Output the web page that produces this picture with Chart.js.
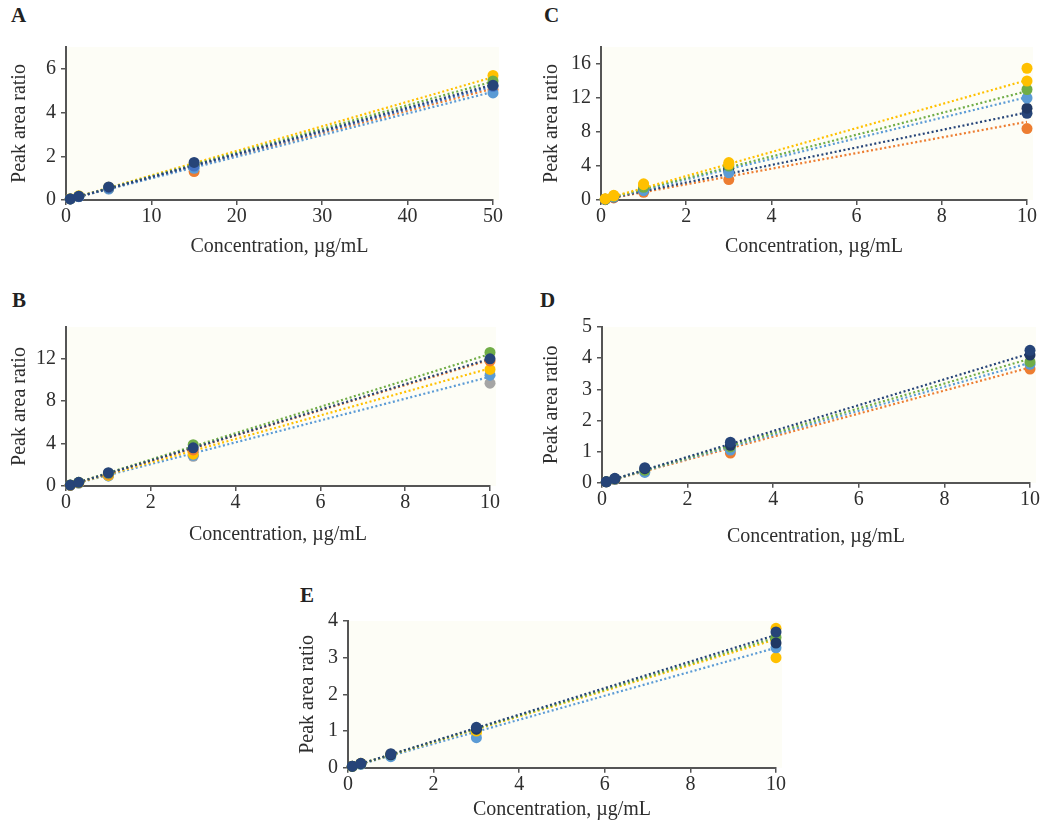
<!DOCTYPE html>
<html lang="en">
<head>
<meta charset="UTF-8">
<title>Calibration curves</title>
<script src="https://cdn.jsdelivr.net/npm/chart.js"></script>
<style>
  body { margin: 0; background: #fff; width: 1042px; height: 822px; position: relative; overflow: hidden;
         font-family: "Liberation Serif", "DejaVu Serif", serif; color: #333; }
  .panel { position: absolute; }
  .tag { position: absolute; font-weight: bold; font-size: 21px; color: #222; }
  .r2 { position: absolute; font-size: 19px; color: #2a2a2a; white-space: nowrap; }
  .r2 sup { font-size: 12px; position: relative; top: -2px; }
</style>
</head>
<body>

<div class="tag" style="left:11px; top:3px">A</div>
<div class="tag" style="left:544px; top:3px">C</div>
<div class="tag" style="left:12px; top:288px">B</div>
<div class="tag" style="left:540px; top:288px">D</div>
<div class="tag" style="left:300px; top:583px">E</div>

<div class="r2" style="left:107px; top:72px">Avg. R<sup>2</sup> = 0.99</div>
<div class="r2" style="left:645px; top:72px">Avg. R<sup>2</sup> = 0.98</div>
<div class="r2" style="left:107px; top:359px">Avg. R<sup>2</sup> = 0.99</div>
<div class="r2" style="left:643px; top:360px">Avg. R<sup>2</sup> = 0.99</div>
<div class="r2" style="left:400px; top:647px">Avg. R<sup>2</sup> = 0.99</div>

<canvas id="panelA" class="panel"></canvas>
<canvas id="panelB" class="panel"></canvas>
<canvas id="panelC" class="panel"></canvas>
<canvas id="panelD" class="panel"></canvas>
<canvas id="panelE" class="panel"></canvas>

<script>
// series colours (Office palette)
const palette = {
  orange: '#ED7D31', gray: '#A5A5A5', yellow: '#FFC000', gold: '#FFC000',
  lightBlue: '#5B9BD5', green: '#70AD47', blue: '#4472C4', darkBlue: '#264478', navy: '#203864'
};

// concentrations, µg/mL
const concA = [0.5, 1.5, 5, 15, 50];
const concLow = [0.1, 0.3, 1, 3, 10];

// tick labels
const xTicksA = [0, 10, 20, 30, 40, 50];
const xTicksLow = [0, 2, 4, 6, 8, 10];
const yTicksA = [0, 2, 4, 6];
const yTicksB = [0, 4, 8, 12];
const yTicksC = [0, 4, 8, 12, 16];
const yTicksD = [0, 1, 2, 3, 4, 5];
const yTicksE = [0, 1, 2, 3, 4];

// panel A
const seriesA = ['orange', 'lightBlue', 'yellow', 'green', 'blue', 'darkBlue'];
const valuesA = [
  [0.05, 0.16, 0.52, 1.30, 5.05],
  [0.05, 0.15, 0.50, 1.45, 4.90],
  [0.06, 0.20, 0.58, 1.60, 5.70],
  [0.05, 0.17, 0.56, 1.60, 5.45],
  [0.05, 0.16, 0.55, 1.55, 5.20],
  [0.05, 0.17, 0.60, 1.72, 5.25]
];
const trendA = [5.1, 4.95, 5.62, 5.42, 5.2, 5.28];

// panel B
const seriesB = ['gray', 'lightBlue', 'yellow', 'orange', 'green', 'darkBlue'];
const valuesB = [
  [0.07, 0.28, 0.95, 2.80, 9.70],
  [0.07, 0.28, 0.95, 2.90, 10.45],
  [0.08, 0.30, 1.00, 3.00, 11.0],
  [0.08, 0.32, 1.10, 3.40, 11.8],
  [0.10, 0.35, 1.20, 3.90, 12.6],
  [0.09, 0.35, 1.25, 3.60, 12.0]
];
const trendB = [null, 10.3, 11.1, 11.9, 12.45, 12.0];

// panel C
const seriesC = ['orange', 'darkBlue', 'navy', 'lightBlue', 'green', 'yellow', 'gold'];
const valuesC = [
  [0.04, 0.25, 0.90, 2.40, 8.40],
  [0.08, 0.35, 1.15, 3.40, 10.2],
  [0.10, 0.40, 1.25, 3.70, 10.8],
  [0.08, 0.35, 1.10, 3.20, 12.0],
  [0.10, 0.45, 1.50, 4.00, 13.0],
  [0.15, 0.55, 1.80, 4.40, 14.0],
  [0.12, 0.50, 1.90, 4.20, 15.5]
];
const trendC = [9.2, 10.3, null, 12.1, 12.8, 14.1, null];

// panel D
const seriesD = ['orange', 'lightBlue', 'green', 'navy', 'darkBlue'];
const valuesD = [
  [0.03, 0.10, 0.38, 0.95, 3.65],
  [0.03, 0.11, 0.33, 1.05, 3.80],
  [0.03, 0.12, 0.40, 1.15, 3.88],
  [0.03, 0.13, 0.45, 1.20, 4.10],
  [0.03, 0.14, 0.48, 1.30, 4.25]
];
const trendD = [3.7, 3.85, 3.98, null, 4.15];

// panel E
const seriesE = ['gold', 'lightBlue', 'yellow', 'green', 'navy', 'darkBlue'];
const valuesE = [
  [0.03, 0.10, 0.33, 0.95, 3.00],
  [0.03, 0.09, 0.30, 0.82, 3.27],
  [0.04, 0.12, 0.37, 1.00, 3.80],
  [0.04, 0.11, 0.35, 1.05, 3.55],
  [0.04, 0.11, 0.35, 1.05, 3.40],
  [0.04, 0.12, 0.38, 1.10, 3.70]
];
const trendE = [null, 3.27, 3.5, 3.55, null, 3.62];

const textColor = '#2e2e2e';
const axisColor = '#555';
const fontFamily = '"Liberation Serif", "DejaVu Serif", serif';

// pale cream plot background
const plotBg = {
  id: 'plotBg',
  beforeDraw(chart) {
    const a = chart.chartArea, ctx = chart.ctx;
    ctx.save();
    ctx.fillStyle = '#FDFDF6';
    ctx.fillRect(a.left, a.top, a.right - a.left + 6, a.bottom - a.top);
    ctx.restore();
  }
};

function makePanel(p) {
  const cv = document.getElementById(p.id);
  cv.style.left = p.left + 'px';
  cv.style.top = p.top + 'px';
  cv.style.width = p.width + 'px';
  cv.style.height = p.height + 'px';
  cv.width = p.width;
  cv.height = p.height;

  const n = p.series.length;
  const datasets = [];
  p.series.forEach((key, i) => {
    const col = palette[key];
    datasets.push({
      label: key,
      data: p.conc.map((c, j) => ({ x: c, y: p.values[i][j] })),
      backgroundColor: col,
      borderWidth: 0,
      pointRadius: 5.5,
      pointHoverRadius: 5.5,
      clip: false,
      order: n - i
    });
    if (p.trend[i] !== null) {
      datasets.push({
        label: key + ' fit',
        type: 'line',
        data: [{ x: 0, y: 0 }, { x: p.xMax, y: p.trend[i] }],
        borderColor: col,
        borderWidth: 2.2,
        borderDash: [2, 2.5],
        pointRadius: 0,
        fill: false,
        order: 100 + n - i
      });
    }
  });

  new Chart(cv, {
    type: 'scatter',
    data: { datasets },
    plugins: [plotBg],
    options: {
      responsive: false,
      animation: false,
      events: [],
      layout: { padding: { left: 0, top: p.padTop, right: p.padRight, bottom: 0 } },
      plugins: { legend: { display: false }, tooltip: { enabled: false } },
      scales: {
        x: {
          type: 'linear', min: 0, max: p.xMax,
          afterFit: s => { s.height = p.xHeight; },
          afterBuildTicks: s => { s.ticks = p.xTicks.map(v => ({ value: v })); },
          grid: { drawOnChartArea: false, tickLength: 5, color: axisColor, lineWidth: 1.5 },
          border: { color: axisColor, width: 2 },
          ticks: { padding: 0, color: textColor, font: { family: fontFamily, size: 20 }, maxRotation: 0 },
          title: { display: true, text: 'Concentration, µg/mL', color: textColor,
                   font: { family: fontFamily, size: 20 }, padding: { top: 0, bottom: p.xTitlePad } }
        },
        y: {
          type: 'linear', min: 0, max: p.yMax,
          afterFit: s => { s.width = p.yWidth; },
          afterBuildTicks: s => { s.ticks = p.yTicks.map(v => ({ value: v })); },
          grid: { drawOnChartArea: false, tickLength: 5, color: axisColor, lineWidth: 1.5 },
          border: { color: axisColor, width: 2 },
          ticks: { padding: 5, color: textColor, font: { family: fontFamily, size: 20 } },
          title: { display: true, text: 'Peak area ratio', color: textColor,
                   font: { family: fontFamily, size: 20 }, padding: { top: p.yTitlePad, bottom: 0 } }
        }
      }
    }
  });
}

makePanel({ id: 'panelA', left: 0, top: 30, width: 505, height: 240, yWidth: 66, padTop: 7, padRight: 12,
  xHeight: 70, xTitlePad: 11, yTitlePad: 8, xMax: 50, yMax: 7, xTicks: xTicksA, yTicks: yTicksA,
  conc: concA, series: seriesA, values: valuesA, trend: trendA });

makePanel({ id: 'panelC', left: 520, top: 30, width: 522, height: 240, yWidth: 81, padTop: 5, padRight: 15,
  xHeight: 70, xTitlePad: 11, yTitlePad: 19.7, xMax: 10, yMax: 18, xTicks: xTicksLow, yTicks: yTicksC,
  conc: concLow, series: seriesC, values: valuesC, trend: trendC });

makePanel({ id: 'panelB', left: 0, top: 310, width: 505, height: 240, yWidth: 66, padTop: 10, padRight: 15,
  xHeight: 64, xTitlePad: 3, yTitlePad: 8, xMax: 10, yMax: 15, xTicks: xTicksLow, yTicks: yTicksB,
  conc: concLow, series: seriesB, values: valuesB, trend: trendB });

makePanel({ id: 'panelD', left: 520, top: 310, width: 522, height: 240, yWidth: 82, padTop: 10, padRight: 12,
  xHeight: 67.3, xTitlePad: 1.3, yTitlePad: 19.7, xMax: 10, yMax: 5, xTicks: xTicksLow, yTicks: yTicksD,
  conc: concLow, series: seriesD, values: valuesD, trend: trendD });

makePanel({ id: 'panelE', left: 280, top: 604, width: 520, height: 218, yWidth: 68, padTop: 10.3, padRight: 24,
  xHeight: 54.3, xTitlePad: 0, yTitlePad: 16, xMax: 10, yMax: 4, xTicks: xTicksLow, yTicks: yTicksE,
  conc: concLow, series: seriesE, values: valuesE, trend: trendE });
</script>
</body>
</html>
